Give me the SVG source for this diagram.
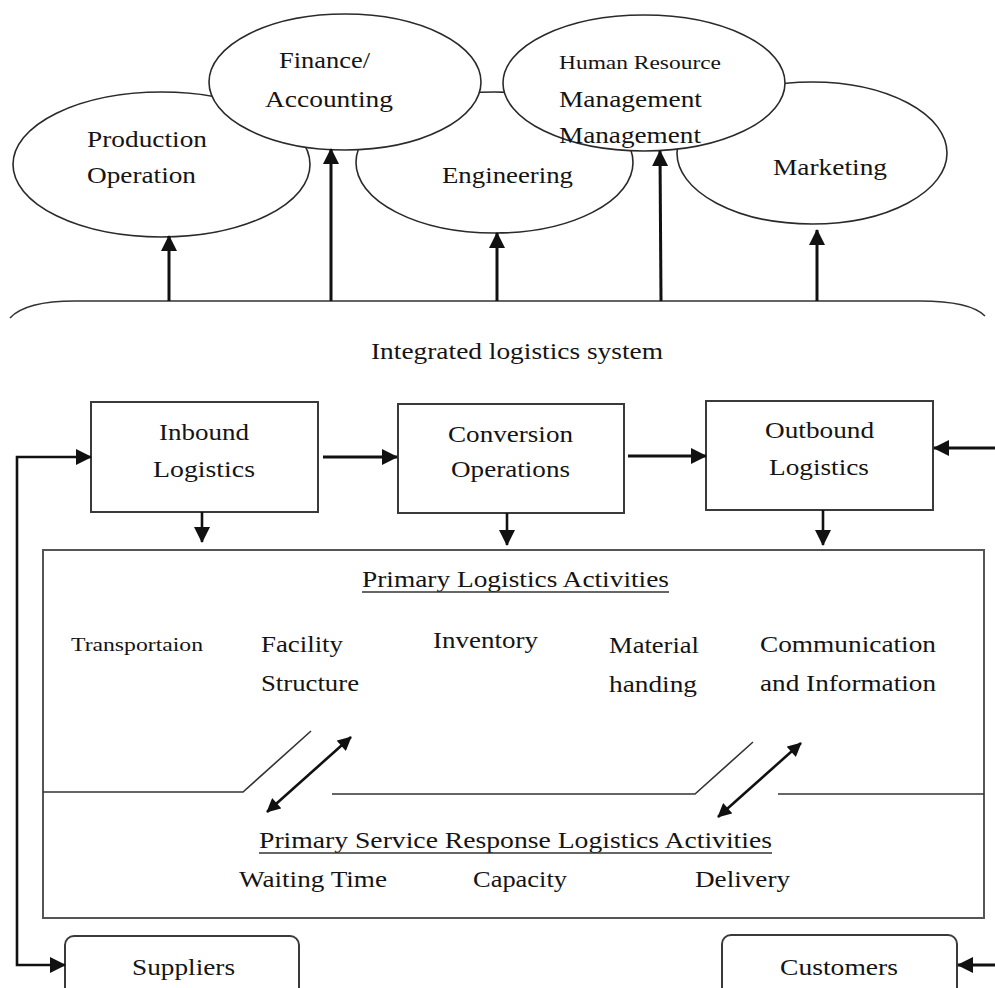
<svg xmlns="http://www.w3.org/2000/svg" width="995" height="988" viewBox="0 0 995 988">
<defs>
<style>
.t{font-family:"Liberation Serif","Times New Roman",serif;font-size:23px;fill:#141414}
.s{font-size:18px}
.e{fill:#fff;stroke:#2a2a2a;stroke-width:1.6}
.b{fill:#fff;stroke:#3a3a3a;stroke-width:2}
.big{fill:none;stroke:#555;stroke-width:2}
.th{fill:none;stroke:#111;stroke-width:3}
.md{fill:none;stroke:#111;stroke-width:2.6}
.ln{fill:none;stroke:#333;stroke-width:1.6}
</style>
<marker id="ah" viewBox="0 0 16 16" refX="15" refY="8" markerWidth="16" markerHeight="17" markerUnits="userSpaceOnUse" orient="auto"><path d="M0,0 L16,8 L0,16 z" fill="#111"/></marker>
<marker id="ahs" viewBox="0 0 16 16" refX="15" refY="8" markerWidth="15" markerHeight="14" markerUnits="userSpaceOnUse" orient="auto-start-reverse"><path d="M0,0 L16,8 L0,16 z" fill="#111"/></marker>
<marker id="ahl" viewBox="0 0 16 16" refX="15" refY="8" markerWidth="16" markerHeight="17" markerUnits="userSpaceOnUse" orient="auto-start-reverse"><path d="M0,0 L16,8 L0,16 z" fill="#111"/></marker>
</defs>
<rect width="995" height="988" fill="#fff"/>

<g id="engineering"><ellipse class="e" cx="494.5" cy="162.5" rx="138.5" ry="70.5"/><text class="t" x="442" y="183" textLength="131" lengthAdjust="spacingAndGlyphs">Engineering</text></g>
<g id="production"><ellipse class="e" cx="161.5" cy="164.5" rx="148.5" ry="72.5"/><text class="t" x="87" y="147" textLength="120" lengthAdjust="spacingAndGlyphs">Production</text><text class="t" x="87" y="183" textLength="109" lengthAdjust="spacingAndGlyphs">Operation</text></g>
<g id="marketing"><ellipse class="e" cx="812" cy="153" rx="135" ry="71"/><text class="t" x="773" y="175" textLength="114" lengthAdjust="spacingAndGlyphs">Marketing</text></g>
<g id="finance"><ellipse class="e" cx="345" cy="82" rx="136" ry="68"/><text class="t" x="279" y="68" textLength="91" lengthAdjust="spacingAndGlyphs">Finance/</text><text class="t" x="265" y="107" textLength="128" lengthAdjust="spacingAndGlyphs">Accounting</text></g>
<g id="hr"><ellipse class="e" cx="644" cy="83" rx="141" ry="68"/><text class="t s" x="559" y="69" textLength="162" lengthAdjust="spacingAndGlyphs">Human Resource</text><text class="t" x="559" y="107" textLength="143" lengthAdjust="spacingAndGlyphs">Management</text><text class="t" x="559" y="143" textLength="142" lengthAdjust="spacingAndGlyphs">Management</text></g>

<g id="brace"><path class="ln" d="M10,318 C20,307 40,301 75,301 L920,301 C955,301 975,306 985,316"/><text class="t" x="371" y="359" textLength="292" lengthAdjust="spacingAndGlyphs">Integrated logistics system</text></g>

<g id="inbound"><rect class="b" x="91" y="402" width="227" height="110"/><text class="t" x="159" y="440" textLength="90" lengthAdjust="spacingAndGlyphs">Inbound</text><text class="t" x="153" y="477" textLength="102" lengthAdjust="spacingAndGlyphs">Logistics</text></g>
<g id="conversion"><rect class="b" x="398" y="404" width="226" height="109"/><text class="t" x="448" y="442" textLength="125" lengthAdjust="spacingAndGlyphs">Conversion</text><text class="t" x="451" y="477" textLength="119" lengthAdjust="spacingAndGlyphs">Operations</text></g>
<g id="outbound"><rect class="b" x="706" y="401" width="227" height="109"/><text class="t" x="765" y="438" textLength="109" lengthAdjust="spacingAndGlyphs">Outbound</text><text class="t" x="769" y="475" textLength="100" lengthAdjust="spacingAndGlyphs">Logistics</text></g>

<g id="activities">
<rect class="big" x="43" y="550" width="941" height="368"/>
<text class="t" x="362" y="587" textLength="307" lengthAdjust="spacingAndGlyphs">Primary Logistics Activities</text>
<line class="ln" x1="362" y1="592" x2="669" y2="592"/>
<text class="t" x="71" y="651" textLength="132" lengthAdjust="spacingAndGlyphs" style="font-size:19px">Transportaion</text>
<text class="t" x="261" y="652" textLength="82" lengthAdjust="spacingAndGlyphs">Facility</text>
<text class="t" x="261" y="691" textLength="98" lengthAdjust="spacingAndGlyphs">Structure</text>
<text class="t" x="433" y="648" textLength="105" lengthAdjust="spacingAndGlyphs">Inventory</text>
<text class="t" x="609" y="653" textLength="90" lengthAdjust="spacingAndGlyphs">Material</text>
<text class="t" x="609" y="692" textLength="88" lengthAdjust="spacingAndGlyphs">handing</text>
<text class="t" x="760" y="652" textLength="176" lengthAdjust="spacingAndGlyphs">Communication</text>
<text class="t" x="760" y="691" textLength="176" lengthAdjust="spacingAndGlyphs">and Information</text>
<path class="ln" d="M43,792 L243,792 L311,731"/>
<path class="ln" d="M332,794 L695,794 L753,742"/>
<path class="ln" d="M778,794 L984,794"/>
<text class="t" x="259" y="848" textLength="513" lengthAdjust="spacingAndGlyphs">Primary Service Response Logistics Activities</text>
<line class="ln" x1="259" y1="853" x2="772" y2="853"/>
<text class="t" x="239" y="887" textLength="148" lengthAdjust="spacingAndGlyphs">Waiting Time</text>
<text class="t" x="473" y="887" textLength="94" lengthAdjust="spacingAndGlyphs">Capacity</text>
<text class="t" x="695" y="887" textLength="95" lengthAdjust="spacingAndGlyphs">Delivery</text>
</g>

<g id="suppliers"><rect class="b" x="65" y="936" width="234" height="70" rx="9"/><text class="t" x="132" y="975" textLength="103" lengthAdjust="spacingAndGlyphs">Suppliers</text></g>
<g id="customers"><rect class="b" x="722" y="935" width="235" height="70" rx="9"/><text class="t" x="780" y="975" textLength="118" lengthAdjust="spacingAndGlyphs">Customers</text></g>

<g id="connectors">
<path class="th" d="M169,301 L169,236" marker-end="url(#ah)"/>
<path class="th" d="M331,301 L331,149" marker-end="url(#ah)"/>
<path class="th" d="M497,301 L497,233" marker-end="url(#ah)"/>
<path class="th" d="M661,301 L660,151" marker-end="url(#ah)"/>
<path class="th" d="M817,301 L817,230" marker-end="url(#ah)"/>
<path class="md" d="M91,457 L17,457 L17,965 L65,965" marker-start="url(#ahl)" marker-end="url(#ah)"/>
<path class="th" d="M323,457 L397,457" marker-end="url(#ah)"/>
<path class="th" d="M628,456 L706,456" marker-end="url(#ah)"/>
<path class="th" d="M995,448 L934,448" marker-end="url(#ah)"/>
<path class="th" d="M995,965 L958,965" marker-end="url(#ah)"/>
<path class="md" d="M202,512 L202,542" marker-end="url(#ah)"/>
<path class="md" d="M507,513 L507,545" marker-end="url(#ah)"/>
<path class="md" d="M823,510 L823,545" marker-end="url(#ah)"/>
<path class="md" d="M267,812 L351,737" marker-start="url(#ahs)" marker-end="url(#ahs)"/>
<path class="md" d="M718,817 L801,743" marker-start="url(#ahs)" marker-end="url(#ahs)"/>
</g>
</svg>
